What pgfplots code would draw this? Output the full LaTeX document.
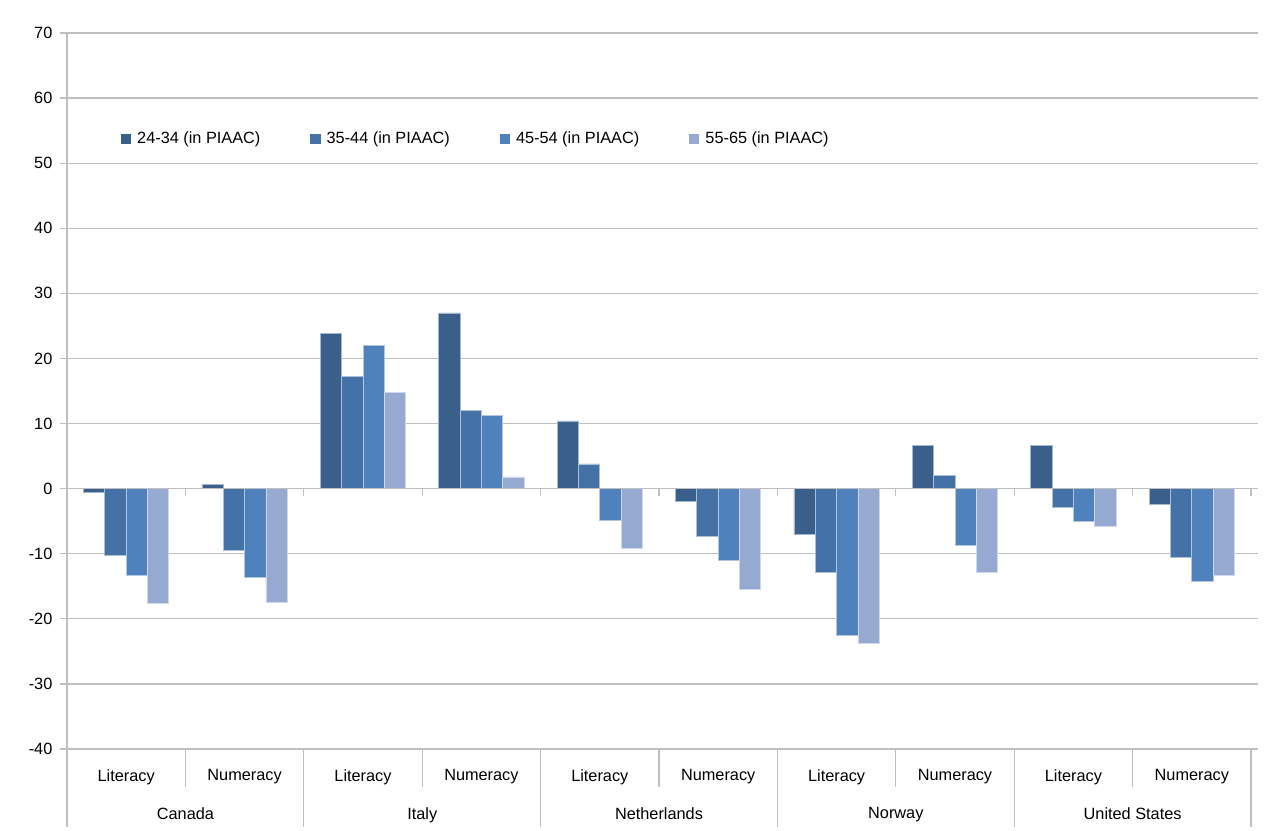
\documentclass[border=0pt]{standalone}
\usepackage{pgfplots}
\usepackage{pgfplotstable}
\pgfplotsset{compat=1.18}
\usepackage{fontspec}
\setmainfont{Liberation Sans}

\definecolor{c1}{HTML}{3A5F8B}
\definecolor{c2}{HTML}{4472A7}
\definecolor{c3}{HTML}{4F81BD}
\definecolor{c4}{HTML}{95A9D1}
\definecolor{gridc}{HTML}{BFBFBF}

% square legend markers
\pgfplotsset{/pgfplots/ybar legend/.style={/pgfplots/legend image code/.code={%
  \fill[##1, draw=none] (0bp,-5.2bp) rectangle (10.5bp,5.2bp);
  \path[draw=none, fill=none] (0bp,0bp) rectangle (14.5bp,0.1bp);}}}

\pgfplotstableread{
x  g1    g2     g3     g4
0  -0.6  -10.2  -13.3  -17.6
1   0.7   -9.5  -13.6  -17.4
2  23.8   17.3   22.0   14.8
3  27.0   12.0   11.2    1.8
4  10.4    3.8   -4.8   -9.1
5  -1.9   -7.3  -11.0  -15.5
6  -7.1  -12.9  -22.6  -23.7
7   6.7    2.0   -8.7  -12.8
8   6.6   -2.9   -5.0   -5.8
9  -2.4  -10.6  -14.3  -13.3
}\gaps

\begin{document}
\fontsize{16.3bp}{19bp}\selectfont
\begin{tikzpicture}
\begin{axis}[
  scale only axis,
  width=1184bp, height=716bp,
  xmin=-0.5, xmax=9.5,
  ymin=-40, ymax=70,
  ytick={-40,-30,...,70},
  xtick={0,...,9},
  xticklabels={Literacy,Numeracy,Literacy,Numeracy,Literacy,Numeracy,Literacy,Numeracy,Literacy,Numeracy},
  xtick style={draw=none},
  x tick label style={yshift=-8bp},
  extra x ticks={0.5,2.5,4.5,6.5,8.5},
  extra x tick labels={Canada,Italy,Netherlands,Norway,United States},
  extra x tick style={major tick length=0pt, tick label style={yshift=-45bp}},
  axis line style={draw=none},
  ymajorgrids,
  grid style={gridc, line width=1.2bp},
  ytick style={gridc, line width=1.2bp},
  tick align=outside,
  major tick length=7bp,
  yticklabel style={xshift=-2bp},
  /pgf/number format/assume math mode=true,
  ybar, bar width=0.18,
  clip=false,
  legend columns=4,
  legend style={draw=none, fill=none, at={(rel axis cs:0.0427,0.852)}, anchor=west,
    /tikz/every even column/.append style={column sep=47.7bp}},
]
\addplot[fill=c1, draw=c1!45!white, line width=0.8bp, bar shift=-0.27] table[x=x,y=g1]{\gaps};
\addplot[fill=c2, draw=c2!45!white, line width=0.8bp, bar shift=-0.09] table[x=x,y=g2]{\gaps};
\addplot[fill=c3, draw=c3!45!white, line width=0.8bp, bar shift=0.09] table[x=x,y=g3]{\gaps};
\addplot[fill=c4, draw=c4!45!white, line width=0.8bp, bar shift=0.27] table[x=x,y=g4]{\gaps};
\legend{24-34 (in PIAAC),35-44 (in PIAAC),45-54 (in PIAAC),55-65 (in PIAAC)}

% horizontal axis at zero with its category ticks
\draw[gridc, line width=1.2bp] (axis cs:-0.5,0) -- (axis cs:9.5,0);
\pgfplotsinvokeforeach{0.5,1.5,2.5,3.5,4.5,5.5,6.5,7.5,8.5,9.5}{
  \draw[gridc, line width=1.2bp] (axis cs:#1,0) -- ++(0pt,-7bp);
}
% left axis line, running down through the label area
\draw[gridc, line width=1.2bp] (rel axis cs:0,1) -- (rel axis cs:0,0) -- ++(0pt,-78bp);
% separators in the label area
\pgfplotsinvokeforeach{1.5,3.5,5.5,7.5,9.5}{
  \draw[gridc, line width=1.2bp] (axis cs:#1,-40) -- ++(0pt,-78bp);
}
\pgfplotsinvokeforeach{0.5,2.5,4.5,6.5,8.5}{
  \draw[gridc, line width=1.2bp] (axis cs:#1,-40) -- ++(0pt,-38bp);
}
\coordinate (sw) at (rel axis cs:0,0);
\coordinate (ne) at (rel axis cs:1,1);
\end{axis}
\pgfresetboundingbox
\path ([shift={(-67bp,-81bp)}]sw) rectangle ([shift={(23bp,33bp)}]ne);
\end{tikzpicture}
\end{document}
